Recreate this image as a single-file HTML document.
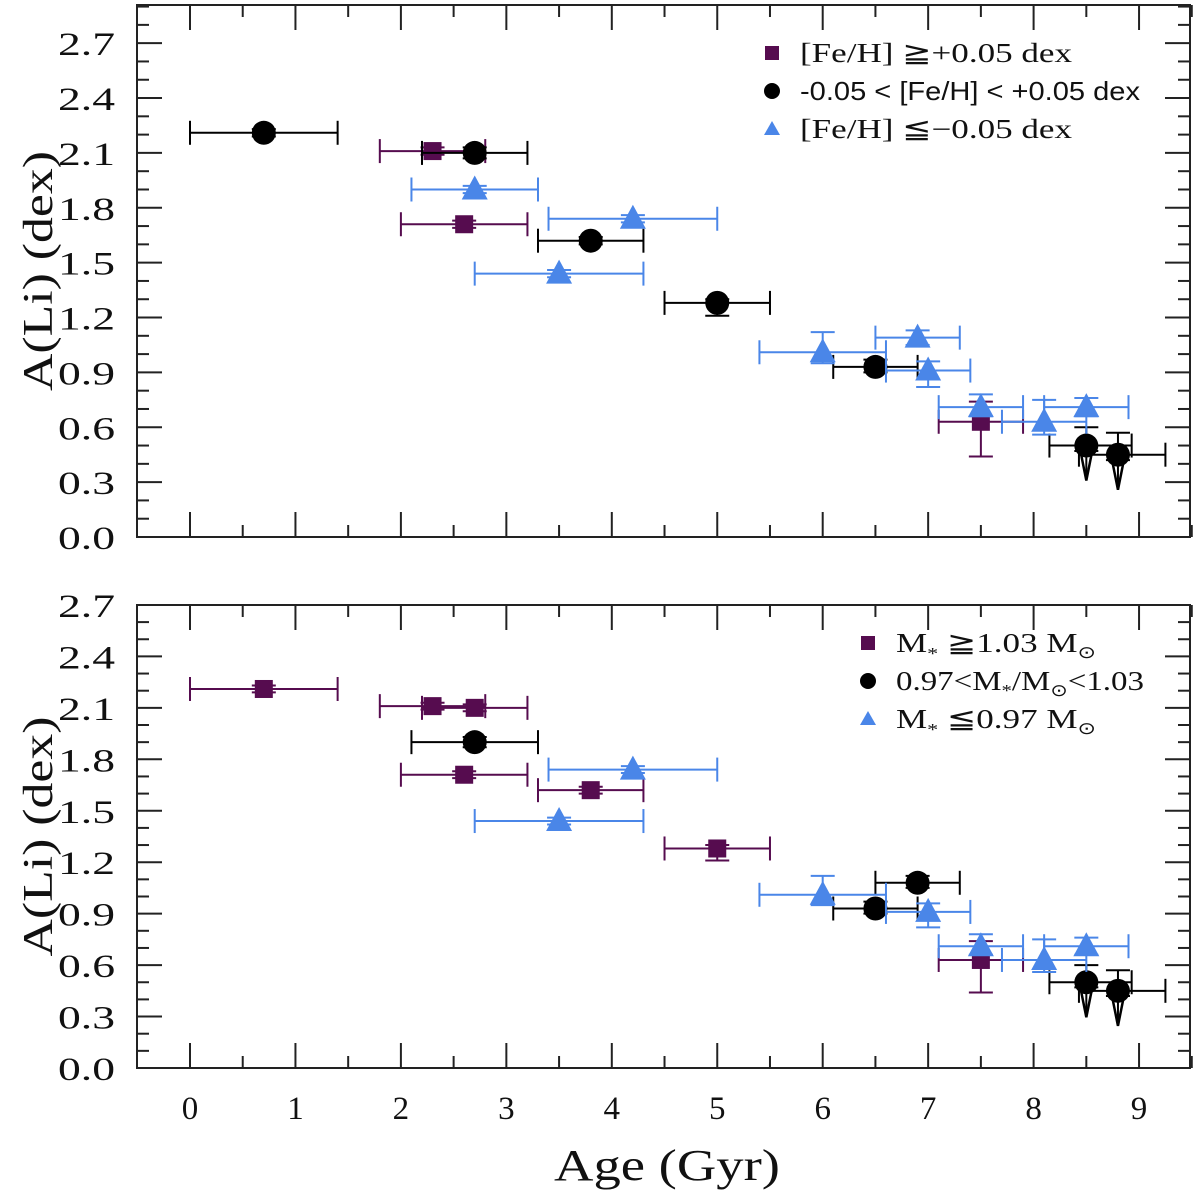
<!DOCTYPE html>
<html><head><meta charset="utf-8"><style>
body{margin:0;background:#fff}
svg{display:block}
text{font-family:"Liberation Serif",serif;fill:#111}
</style></head><body>
<svg id="c" width="1200" height="1191" viewBox="0 0 1200 1191" xmlns="http://www.w3.org/2000/svg"></svg>
<script>
const xTicks=[0,1,2,3,4,5,6,7,8,9];
const yTicks=[0,0.3,0.6,0.9,1.2,1.5,1.8,2.1,2.4,2.7];
// top panel (metallicity groups): [age, ALi, xlo, xhi, ylo, yhi, upperLimit]
const topPurple=[[2.3,2.11,1.8,2.8,2.09,2.13,0],[2.6,1.71,2.0,3.2,1.69,1.73,0],[7.5,0.63,7.1,7.9,0.44,0.74,0]];
const topBlack=[[0.7,2.21,0,1.4,2.19,2.23,0],[2.7,2.10,2.2,3.2,2.07,2.13,0],[3.8,1.62,3.3,4.3,1.60,1.64,0],[5.0,1.28,4.5,5.5,1.21,1.30,0],[6.5,0.93,6.1,6.9,0.90,0.97,0],[8.5,0.50,8.15,8.93,0.47,0.60,1],[8.8,0.45,8.43,9.25,0.42,0.57,1]];
const topBlue=[[2.7,1.90,2.1,3.3,1.88,1.92,0],[4.2,1.74,3.4,5.0,1.72,1.76,0],[3.5,1.44,2.7,4.3,1.42,1.46,0],[6.0,1.01,5.4,6.6,0.95,1.12,0],[6.9,1.09,6.5,7.3,1.05,1.13,0],[7.0,0.91,6.6,7.4,0.82,0.96,0],[7.5,0.71,7.1,7.9,0.66,0.78,0],[8.1,0.63,7.7,8.5,0.56,0.75,0],[8.5,0.71,8.1,8.9,0.66,0.76,0]];
// bottom panel (mass groups)
const botPurple=[[0.7,2.21,0,1.4,2.19,2.23,0],[2.3,2.11,1.8,2.8,2.09,2.13,0],[2.7,2.10,2.2,3.2,2.08,2.12,0],[2.6,1.71,2.0,3.2,1.69,1.73,0],[3.8,1.62,3.3,4.3,1.60,1.64,0],[5.0,1.28,4.5,5.5,1.21,1.30,0],[7.5,0.63,7.1,7.9,0.44,0.74,0]];
const botBlack=[[2.7,1.90,2.1,3.3,1.87,1.93,0],[6.5,0.93,6.1,6.9,0.90,0.97,0],[6.9,1.08,6.5,7.3,1.05,1.12,0],[8.5,0.50,8.15,8.93,0.47,0.60,1],[8.8,0.45,8.43,9.25,0.42,0.57,1]];
const botBlue=[[4.2,1.74,3.4,5.0,1.72,1.76,0],[3.5,1.44,2.7,4.3,1.42,1.46,0],[6.0,1.01,5.4,6.6,0.95,1.12,0],[7.0,0.91,6.6,7.4,0.82,0.96,0],[7.5,0.71,7.1,7.9,0.66,0.78,0],[8.1,0.63,7.7,8.5,0.56,0.75,0],[8.5,0.71,8.1,8.9,0.66,0.76,0]];
const PURPLE="#560c4f",BLACK="#000",BLUE="#4a86e8";
const NS="http://www.w3.org/2000/svg";
const svg=document.getElementById('c');
function mk(t,a,p){const e=document.createElementNS(NS,t);for(const k in a)e.setAttribute(k,a[k]);(p||svg).appendChild(e);return e;}
const X=v=>190+105.45*v;
function panel(name,top,bottom,y0,yScale,purple,black,blue,legend){
  const Y=v=>y0-yScale*v;
  const g=mk('g',{});
  
  
  const fr=mk('rect',{x:137,y:top,width:1053,height:bottom-top,fill:'none',stroke:'#222','stroke-width':2},g);
  
  
  xTicks.forEach(t=>{
    [t,t+0.5].forEach((v,i)=>{ if(v>9.8)return; const L=i?12:25;
      mk('line',{x1:X(v),x2:X(v),y1:bottom,y2:bottom-L,stroke:'#222','stroke-width':2},g);
      mk('line',{x1:X(v),x2:X(v),y1:top,y2:top+L,stroke:'#222','stroke-width':2},g);});
  });
  yTicks.forEach(t=>{
    for(let k=0;k<3;k++){const v=t+k*0.1;const yy=Y(v);if(yy<top-1)continue;const L=k?12:25;
      mk('line',{x1:137,x2:137+L,y1:yy,y2:yy,stroke:'#222','stroke-width':2},g);
      mk('line',{x1:1190,x2:1190-L,y1:yy,y2:yy,stroke:'#222','stroke-width':2},g);}
    const tl=mk('text',{x:58,y:Y(t)+12,'font-size':33,textLength:57,lengthAdjust:'spacingAndGlyphs'},g);
    tl.textContent=t.toFixed(1);
    
    
  });
  const yl=mk('text',{x:0,y:0,'font-size':42,'text-anchor':'middle',textLength:240,lengthAdjust:'spacingAndGlyphs',transform:`translate(52,${(top+bottom)/2}) rotate(-90)`},g);
  yl.textContent='A(Li) (dex)';
  
  
  function series(arr,col,shape,sname){
    const sg=mk('g',{},g);
    
    
    arr.forEach(d=>{
      const [a,v,xl,xh,yl2,yh,ul]=d;const cx=X(a),cy=Y(v);
      mk('line',{x1:X(xl),x2:X(xh),y1:cy,y2:cy,stroke:col,'stroke-width':2},sg);
      mk('line',{x1:X(xl),x2:X(xl),y1:cy-12,y2:cy+12,stroke:col,'stroke-width':2},sg);
      mk('line',{x1:X(xh),x2:X(xh),y1:cy-12,y2:cy+12,stroke:col,'stroke-width':2},sg);
      mk('line',{x1:cx,x2:cx,y1:Y(yl2),y2:Y(yh),stroke:col,'stroke-width':2},sg);
      mk('line',{x1:cx-12,x2:cx+12,y1:Y(yl2),y2:Y(yl2),stroke:col,'stroke-width':2},sg);
      mk('line',{x1:cx-12,x2:cx+12,y1:Y(yh),y2:Y(yh),stroke:col,'stroke-width':2},sg);
      if(ul){mk('polygon',{points:`${cx-7},${cy} ${cx+7},${cy} ${cx},${cy+35}`,fill:'none',stroke:col,'stroke-width':2.5},sg);
             mk('line',{x1:cx,x2:cx,y1:cy,y2:cy+35,stroke:col,'stroke-width':2},sg);}
      let m;
      if(shape==='sq')m=mk('rect',{x:cx-9,y:cy-9,width:18,height:18,fill:col},sg);
      else if(shape==='ci')m=mk('circle',{cx:cx,cy:cy,r:12,fill:col},sg);
      else m=mk('polygon',{points:`${cx-13},${cy+10} ${cx+13},${cy+10} ${cx},${cy-14}`,fill:col},sg);
      
      
    });
  }
  series(purple,PURPLE,'sq','series-purple');
  series(black,BLACK,'ci','series-black');
  series(blue,BLUE,'tr','series-blue');
  const lg=mk('g',{},g);
  
  
  legend.forEach((L,i)=>{
    const ly=legend.y+i*38,lx=legend.x;
    let m;
    if(i===0)m=mk('rect',{x:lx-7,y:ly-7,width:14,height:14,fill:PURPLE},lg);
    else if(i===1)m=mk('circle',{cx:lx,cy:ly,r:8,fill:BLACK},lg);
    else m=mk('polygon',{points:`${lx-8},${ly+6} ${lx+8},${ly+6} ${lx},${ly-8}`,fill:BLUE},lg);
    
    
    const t=mk('text',{x:lx+28,y:ly+9,'font-size':L.s||27,textLength:L.w,lengthAdjust:'spacingAndGlyphs'},lg);
    if(L.sans)t.style.fontFamily='"Liberation Sans",sans-serif';
    t.innerHTML=L.t;
    
    
  });
}
const legTop=[{t:'[Fe/H] ≧+0.05 dex',w:272},{t:'-0.05 &lt; [Fe/H] &lt; +0.05 dex',sans:1,s:26,w:340},{t:'[Fe/H] ≦−0.05 dex',w:272}];
legTop.x=772;legTop.y=53;
const legBot=[{t:'M<tspan font-size="17" dy="7">*</tspan><tspan dy="-7"> ≧1.03 M</tspan><tspan font-size="17" dy="6">⊙</tspan>',w:200},{t:'0.97&lt;M<tspan font-size="17" dy="6">*</tspan><tspan dy="-6">/M</tspan><tspan font-size="17" dy="6">⊙</tspan><tspan dy="-6">&lt;1.03</tspan>',w:248},{t:'M<tspan font-size="17" dy="7">*</tspan><tspan dy="-7"> ≦0.97 M</tspan><tspan font-size="17" dy="6">⊙</tspan>',w:200}];
legBot.x=868;legBot.y=643;
panel('top-panel',5,537,537,182.9,topPurple,topBlack,topBlue,legTop);
panel('bottom-panel',605,1068,1068,171.5,botPurple,botBlack,botBlue,legBot);
xTicks.forEach(t=>{
  const tl=mk('text',{x:X(t),y:1119,'font-size':33,'text-anchor':'middle'});
  tl.textContent=t;
  
  
});
const xt=mk('text',{x:554,y:1180,'font-size':44,textLength:226,lengthAdjust:'spacingAndGlyphs'});
xt.textContent='Age (Gyr)';


</script>
</body></html>
